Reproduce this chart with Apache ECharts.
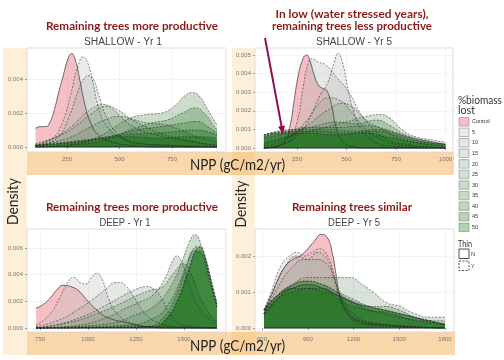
<!DOCTYPE html>
<html><head><meta charset="utf-8">
<script src="https://cdn.jsdelivr.net/npm/echarts@6/dist/echarts.min.js"></script>
<style>html,body{margin:0;padding:0;background:#fff}#c{width:504px;height:360px}</style>
</head><body><div id="c"></div>
<script>
// ---------- DATA ----------
const levels = ['Control','5','10','15','20','25','30','35','40','45','50'];

// SHALLOW - Yr 1 : [NPP, density] per level
const shallowYr1 = [
 [[100,0.0011],[125,0.0012],[150,0.0012],[170,0.0015],[190,0.0022],[210,0.0032],[232,0.0042],[255,0.0052],[272,0.0055],[290,0.0051],[310,0.0040],[335,0.0025],[360,0.0015],[400,0.0007],[460,0.0003],[550,0.0001],[700,0],[964,0]],
 [[100,0.0001],[180,0.0005],[230,0.0015],[270,0.0032],[300,0.0047],[328,0.0053],[350,0.0049],[375,0.0037],[400,0.0023],[440,0.0012],[500,0.0006],[600,0.0002],[750,0.0001],[964,0]],
 [[100,0],[200,0.0005],[260,0.0018],[300,0.0032],[330,0.0040],[351,0.0042],[375,0.0040],[400,0.0031],[440,0.0017],[490,0.0008],[560,0.0003],[700,0.0001],[964,0]],
 [[100,0.0001],[200,0.0006],[280,0.0013],[340,0.0020],[390,0.0024],[425,0.0025],[470,0.0022],[520,0.0016],[580,0.0011],[650,0.0008],[750,0.0005],[850,0.0003],[964,0.0001]],
 [[100,0.0002],[220,0.0007],[300,0.0013],[370,0.0020],[440,0.0024],[490,0.0022],[560,0.0016],[640,0.0011],[720,0.0007],[820,0.0004],[900,0.0002],[964,0.0001]],
 [[100,0.0001],[250,0.0005],[350,0.0011],[430,0.0016],[500,0.0018],[570,0.0016],[640,0.0014],[720,0.0013],[790,0.0010],[870,0.0006],[930,0.0004],[964,0.0003]],
 [[100,0],[300,0.0002],[400,0.0006],[480,0.0012],[550,0.0017],[620,0.0019],[700,0.0020],[760,0.0024],[810,0.0030],[845,0.0032],[880,0.0030],[920,0.0022],[964,0.0013]],
 [[100,0],[350,0.0002],[450,0.0005],[550,0.0010],[650,0.0014],[730,0.0016],[800,0.0020],[860,0.0023],[910,0.0019],[945,0.0013],[964,0.0010]],
 [[100,0.0001],[300,0.0003],[450,0.0006],[580,0.0010],[700,0.0012],[800,0.0014],[870,0.0015],[920,0.0012],[964,0.0008]],
 [[100,0.0001],[300,0.0003],[500,0.0007],[650,0.0008],[760,0.0009],[860,0.0010],[920,0.0009],[964,0.0007]],
 [[100,0.0001],[250,0.0003],[400,0.0005],[550,0.0006],[700,0.0005],[800,0.0006],[900,0.0006],[964,0.0005]]
];
// SHALLOW - Yr 5
const shallowYr5 = [
 [[83,0],[150,0.0001],[190,0.0004],[215,0.0012],[235,0.0025],[255,0.0038],[280,0.0048],[299,0.0050],[315,0.0047],[335,0.0040],[357,0.0034],[380,0.0032],[400,0.0031],[425,0.0023],[445,0.0012],[470,0.0005],[520,0.0001],[600,0],[1000,0]],
 [[83,0],[200,0.0003],[280,0.0010],[330,0.0020],[370,0.0029],[405,0.0035],[435,0.0045],[458,0.0051],[480,0.0046],[505,0.0033],[535,0.0020],[575,0.0010],[630,0.0004],[720,0.0001],[1000,0]],
 [[83,0],[200,0.0003],[250,0.0014],[280,0.0032],[305,0.0045],[325,0.0048],[360,0.0046],[391,0.0045],[450,0.0038],[518,0.0029],[568,0.0019],[620,0.0012],[700,0.0005],[800,0.0002],[1000,0]],
 [[83,0.0001],[200,0.0005],[300,0.0015],[370,0.0025],[410,0.0027],[460,0.0026],[520,0.0020],[580,0.0012],[650,0.0006],[750,0.0002],[1000,0]],
 [[83,0.0002],[200,0.0006],[300,0.0012],[400,0.0020],[480,0.0024],[530,0.0022],[600,0.0015],[680,0.0010],[780,0.0005],[900,0.0002],[1000,0.0001]],
 [[83,0.0003],[200,0.0006],[350,0.0010],[500,0.0014],[600,0.0017],[670,0.0018],[720,0.0016],[780,0.0010],[850,0.0006],[950,0.0004],[1000,0.0003]],
 [[83,0.0005],[200,0.0008],[350,0.0012],[450,0.0014],[550,0.0013],[650,0.0015],[720,0.0012],[800,0.0007],[900,0.0004],[1000,0.0002]],
 [[83,0.0006],[200,0.0009],[300,0.0011],[450,0.0011],[600,0.0012],[700,0.0010],[800,0.0006],[900,0.0003],[1000,0.0002]],
 [[83,0.0007],[150,0.0009],[250,0.0010],[400,0.0010],[550,0.0009],[650,0.0010],[750,0.0008],[850,0.0005],[1000,0.0002]],
 [[83,0.0007],[200,0.0009],[350,0.0009],[500,0.0008],[650,0.0009],[750,0.0007],[850,0.0004],[1000,0.0002]],
 [[83,0.0007],[150,0.0008],[300,0.0008],[450,0.0007],[600,0.0008],[700,0.0006],[850,0.0003],[1000,0.0001]]
];
// DEEP - Yr 1
const deepYr1 = [
 [[729,0.0015],[760,0.0017],[800,0.0022],[840,0.0029],[870,0.0032],[910,0.0031],[950,0.0028],[1000,0.0020],[1050,0.0013],[1100,0.0008],[1200,0.0004],[1300,0.0001],[1450,0],[1672,0]],
 [[729,0.0002],[800,0.0010],[850,0.0022],[890,0.0033],[924,0.0038],[960,0.0034],[990,0.0033],[1020,0.0038],[1045,0.0041],[1075,0.0036],[1105,0.0023],[1150,0.0011],[1220,0.0004],[1350,0.0001],[1672,0]],
 [[729,0.0001],[850,0.0006],[950,0.0014],[1030,0.0022],[1100,0.0030],[1140,0.0034],[1167,0.0034],[1200,0.0031],[1240,0.0023],[1290,0.0012],[1350,0.0005],[1450,0.0001],[1672,0]],
 [[729,0],[850,0.0003],[980,0.0009],[1080,0.0016],[1180,0.0024],[1250,0.0029],[1306,0.0031],[1345,0.0029],[1385,0.0022],[1425,0.0011],[1480,0.0003],[1560,0.0001],[1672,0]],
 [[729,0],[950,0.0002],[1100,0.0008],[1200,0.0015],[1280,0.0020],[1340,0.0025],[1400,0.0037],[1440,0.0050],[1462,0.0054],[1490,0.0049],[1530,0.0031],[1580,0.0015],[1640,0.0006],[1672,0.0003]],
 [[729,0],[900,0.0004],[1050,0.0011],[1150,0.0017],[1250,0.0024],[1320,0.0028],[1390,0.0031],[1440,0.0040],[1500,0.0048],[1535,0.0041],[1580,0.0024],[1640,0.0009],[1672,0.0005]],
 [[729,0],[1100,0.0003],[1250,0.0010],[1350,0.0017],[1430,0.0031],[1490,0.0050],[1530,0.0065],[1557,0.0070],[1590,0.0062],[1620,0.0044],[1650,0.0027],[1672,0.0016]],
 [[729,0],[1200,0.0002],[1350,0.0008],[1420,0.0018],[1480,0.0035],[1530,0.0054],[1570,0.0061],[1605,0.0055],[1635,0.0040],[1660,0.0026],[1672,0.0019]],
 [[729,0],[1300,0.0001],[1380,0.0006],[1450,0.0021],[1510,0.0044],[1555,0.0058],[1590,0.0057],[1625,0.0044],[1655,0.0027],[1672,0.0018]],
 [[729,0],[1340,0.0001],[1400,0.0006],[1470,0.0021],[1530,0.0045],[1570,0.0057],[1600,0.0053],[1640,0.0033],[1672,0.0016]],
 [[729,0],[1350,0.0001],[1400,0.0005],[1460,0.0019],[1520,0.0042],[1560,0.0058],[1585,0.0061],[1615,0.0051],[1648,0.0031],[1672,0.0017]]
];
// DEEP - Yr 5
const deepYr5 = [
 [[613,0.0005],[660,0.0009],[700,0.0013],[750,0.0017],[800,0.0019],[850,0.0020],[900,0.0022],[940,0.0024],[990,0.0026],[1030,0.0025],[1060,0.0021],[1085,0.0015],[1110,0.0009],[1150,0.0005],[1220,0.0002],[1350,0.0001],[1800,0]],
 [[613,0.0005],[660,0.0010],[720,0.0017],[780,0.0020],[830,0.0021],[880,0.0020],[930,0.0021],[975,0.0022],[1030,0.0020],[1070,0.0015],[1110,0.0008],[1160,0.0004],[1250,0.0001],[1800,0]],
 [[613,0.0004],[680,0.0011],[750,0.0017],[830,0.0020],[900,0.0019],[960,0.0021],[1010,0.0020],[1060,0.0016],[1100,0.0010],[1160,0.0005],[1250,0.0002],[1800,0]],
 [[613,0.0004],[700,0.0011],[800,0.0017],[880,0.0019],[950,0.0019],[1020,0.0018],[1080,0.0013],[1130,0.0008],[1200,0.0004],[1350,0.0001],[1800,0]],
 [[613,0.0003],[700,0.0008],[800,0.0012],[900,0.0014],[1000,0.0014],[1100,0.0014],[1177,0.0014],[1260,0.0012],[1328,0.0010],[1420,0.0007],[1505,0.0006],[1600,0.0004],[1700,0.0003],[1800,0.0003]],
 [[613,0.0004],[700,0.0009],[800,0.0012],[890,0.0013],[1000,0.0012],[1100,0.0010],[1200,0.0008],[1300,0.0006],[1400,0.0005],[1500,0.0004],[1600,0.0003],[1700,0.0002],[1800,0.0001]],
 [[613,0.0005],[700,0.0009],[800,0.0011],[900,0.0012],[1000,0.0011],[1100,0.0009],[1200,0.0007],[1300,0.0006],[1400,0.0006],[1500,0.0005],[1600,0.0003],[1700,0.0002],[1800,0.0002]],
 [[613,0.0004],[700,0.0008],[800,0.0011],[900,0.0012],[1000,0.0011],[1100,0.0009],[1200,0.0007],[1300,0.0005],[1400,0.0004],[1500,0.0003],[1650,0.0002],[1800,0.0001]],
 [[613,0.0005],[700,0.0009],[800,0.0011],[900,0.0011],[1000,0.0010],[1100,0.0009],[1200,0.0007],[1300,0.0006],[1400,0.0005],[1500,0.0004],[1600,0.0003],[1800,0.0001]],
 [[613,0.0004],[700,0.0008],[800,0.0010],[900,0.0011],[1000,0.0011],[1100,0.0008],[1200,0.0006],[1300,0.0005],[1450,0.0004],[1600,0.0002],[1800,0.0001]],
 [[613,0.0005],[700,0.0009],[800,0.0012],[900,0.0013],[1000,0.0012],[1050,0.0011],[1170,0.0008],[1300,0.0006],[1400,0.0005],[1600,0.0003],[1800,0.0001]]
];

// tick labels
const shallowYr1XTicks = [250,500,750];
const shallowYr1YTicks = [0,0.002,0.004];
const shallowYr5XTicks = [250,500,750,1000];
const shallowYr5YTicks = [0,0.001,0.002,0.003,0.004,0.005];
const deepYr1XTicks = [750,1000,1250,1500];
const deepYr1YTicks = [0,0.002,0.004,0.006];
const deepYr5XTicks = [600,900,1200,1500,1800];
const deepYr5YTicks = [0,0.001,0.002];

const titles = ['Remaining trees more productive', 'In low (water stressed years),', 'remaining trees less productive', 'Remaining trees more productive', 'Remaining trees similar'];
const subtitles = ['SHALLOW - Yr 1','SHALLOW - Yr 5','DEEP - Yr 1','DEEP - Yr 5'];
const xName = 'NPP (gC/m2/yr)';
const yName = 'Density';
const legendTitle = ['%biomass','lost'];
const thinTitle = 'Thin';
const thinLevels = ['N','Y'];

// ---------- LAYOUT / STYLE ----------
const panels = [
  {data: shallowYr1, xt: shallowYr1XTicks, yt: shallowYr1YTicks, grid:{left:27, top:48, width:199, height:104}, x:[59.5,1007], y:[-0.000294,0.005824]},
  {data: shallowYr5, xt: shallowYr5XTicks, yt: shallowYr5YTicks, grid:{left:255, top:48, width:198, height:104}, x:[38,1038], y:[-0.000215,0.005376]},
  {data: deepYr1, xt: deepYr1XTicks, yt: deepYr1YTicks, grid:{left:27, top:229, width:199, height:103}, x:[682,1719], y:[-0.0003,0.007416]},
  {data: deepYr5, xt: deepYr5XTicks, yt: deepYr5YTicks, grid:{left:255, top:229, width:199, height:103}, x:[554,1859], y:[-0.000111,0.00275]}
];

function fillColor(i){
  if (i === 0) return 'rgba(232,96,110,0.4)';
  const t = (i-1)/9;
  const r = Math.round(190*(1-t)), g = Math.round(190 + (100-190)*t), b = Math.round(190*(1-t));
  return 'rgba('+r+','+g+','+b+',0.3)';
}

const grids=[], xAxes=[], yAxes=[], series=[];
panels.forEach((p,pi)=>{
  grids.push(Object.assign({show:true, backgroundColor:'#fff', borderColor:'#d4d4d4', borderWidth:0.8, containLabel:false}, p.grid));
  xAxes.push({gridIndex:pi, type:'value', min:p.x[0], max:p.x[1],
    axisLine:{show:false},
    axisTick:{show:true, length:2, customValues:p.xt, lineStyle:{color:'#666', width:0.6}},
    axisLabel:{customValues:p.xt, fontSize:6, color:'#777', margin:4, fontFamily:'Liberation Sans', formatter:v=>String(Math.round(v))},
    splitLine:{show:true, lineStyle:{color:'#ececec', width:0.6}}});
  yAxes.push({gridIndex:pi, type:'value', min:p.y[0], max:p.y[1],
    axisLine:{show:false},
    axisTick:{show:true, length:2, customValues:p.yt, lineStyle:{color:'#666', width:0.6}},
    axisLabel:{customValues:p.yt, fontSize:6, color:'#777', margin:4, fontFamily:'Liberation Sans', formatter:v=>v.toFixed(3)},
    splitLine:{show:true, lineStyle:{color:'#ececec', width:0.6}}});
  p.data.forEach((d,i)=>{
    series.push({type:'line', name:levels[i], xAxisIndex:pi, yAxisIndex:pi, data:d,
      smooth:0.5, symbol:'none', silent:true, animation:false,
      lineStyle:{color: i===0 ? '#333' : 'rgba(30,30,30,0.75)', width:0.7, type: i===0 ? 'solid' : [2,1.5]},
      areaStyle:{color:fillColor(i), opacity:1}});
  });
  // baseline outline of the density polygons (from first to last NPP value, at density 0)
  const xs = p.data[0].map(q=>q[0]);
  series.push({type:'line', name:'baseline', xAxisIndex:pi, yAxisIndex:pi, silent:true, animation:false, symbol:'none',
    data:[[xs[0],0],[xs[xs.length-1],0]], lineStyle:{color:'#1b2e1b', width:1}});
});

// ---------- GRAPHICS (bands, titles, legend, arrow) ----------
const G=[];
const mctx=document.createElement('canvas').getContext('2d');
function fitScale(str,font,w){ mctx.font=font; return w/mctx.measureText(str).width; }
function rect(x,y,w,h,fill,z){ G.push({type:'rect', silent:true, z:(z===undefined?-10:z), shape:{x:x,y:y,width:w,height:h}, style:{fill:fill}}); }
function txt(str,x,y,font,fill,o){ o=o||{};
  const el={type:'text', silent:true, z:20, x:x, y:y, style:{text:str, font:font, fill:fill, align:o.align||'center', verticalAlign:'middle'}};
  if (o.width) el.scaleX = fitScale(str,font,o.width);
  if (o.rot) el.rotation = o.rot;
  G.push(el);
}
// bands
rect(3,48,24,307,'#FDEFD8',-12);
rect(232,48,23,307,'#FDEFD8',-12);
rect(27,152,427,23,'rgba(245,175,85,0.5)',-11);
rect(27,332,428,23,'rgba(245,175,85,0.5)',-11);

const titleFont='bold 11.5px Lato', titleCol='#8B1A1A';
txt(titles[0],132,26.5,titleFont,titleCol,{width:172});
txt(titles[1],352,14,titleFont,titleCol,{width:153});
txt(titles[2],352,26.5,titleFont,titleCol,{width:160});
txt(titles[3],132,207,titleFont,titleCol,{width:172});
txt(titles[4],352,207,titleFont,titleCol,{width:120});
const subFont='10px "Liberation Sans"', subCol='#444';
txt(subtitles[0],123,42,subFont,subCol,{width:78});
txt(subtitles[1],354,42,subFont,subCol,{width:76});
txt(subtitles[2],125,223,subFont,subCol,{width:51});
txt(subtitles[3],354,223,subFont,subCol,{width:52});

txt(xName,237.5,165,'14.5px Lato','#222',{width:95});
txt(xName,237.5,346,'14.5px Lato','#222',{width:95});
txt(yName,13,201.5,'16px Lato','#222',{width:47, rot:Math.PI/2});
txt(yName,241,204,'16px Lato','#222',{width:47, rot:Math.PI/2});

// legend
txt(legendTitle[0],458,100,'11px Lato','#333',{align:'left', width:44});
txt(legendTitle[1],458,110.5,'11px Lato','#333',{align:'left', width:17});
levels.forEach((lv,i)=>{
  const top=117.5+i*10.55;
  G.push({type:'rect', silent:true, z:20, shape:{x:459,y:top,width:10,height:8.5}, style:{fill:fillColor(i), stroke:'#777', lineWidth:0.5}});
  txt(lv,472,top+4.3,'5.5px "Liberation Sans"','#333',{align:'left'});
});
txt(thinTitle,458,244,'9.5px Lato','#333',{align:'left', width:14});
G.push({type:'rect', silent:true, z:20, shape:{x:459,y:249,width:10,height:9.5}, style:{fill:'#fff', stroke:'#222', lineWidth:0.8}});
G.push({type:'rect', silent:true, z:20, shape:{x:459,y:261,width:10,height:9.5}, style:{fill:'#fff', stroke:'#222', lineWidth:0.8, lineDash:[2,1.5]}});
txt(thinLevels[0],471,254,'5.5px "Liberation Sans"','#333',{align:'left'});
txt(thinLevels[1],471,266,'5.5px "Liberation Sans"','#333',{align:'left'});

// arrow
(function(){
  const s=[265,38], t=[283,134];
  const dx=t[0]-s[0], dy=t[1]-s[1], L=Math.hypot(dx,dy), ux=dx/L, uy=dy/L;
  const hl=8, hw=3.5, bx=t[0]-ux*hl, by=t[1]-uy*hl;
  G.push({type:'polyline', silent:true, z:30, shape:{points:[s,[bx+ux*1,by+uy*1]]}, style:{stroke:'#8E0B4F', lineWidth:2, fill:null}});
  G.push({type:'polygon', silent:true, z:30, shape:{points:[t,[bx-uy*hw,by+ux*hw],[bx+uy*hw,by-ux*hw]]}, style:{fill:'#8E0B4F'}});
})();

const chart=echarts.init(document.getElementById('c'),null,{renderer:'canvas'});
chart.setOption({animation:false, backgroundColor:'#fff', grid:grids, xAxis:xAxes, yAxis:yAxes, series:series, graphic:{elements:G}});
</script></body></html>
